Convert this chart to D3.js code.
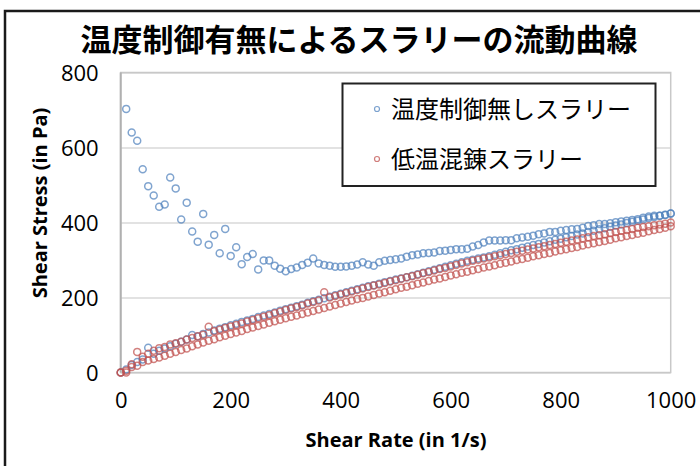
<!DOCTYPE html>
<html lang="ja">
<head>
<meta charset="UTF-8">
<title>温度制御有無によるスラリーの流動曲線</title>
<script src="https://d3js.org/d3.v7.min.js"></script>
<style>
  body { margin: 0; background: #fff; }
  svg { display: block; }
  .title { font-family: "Noto Sans CJK JP", sans-serif; font-weight: bold; font-size: 31px; }
  .tick text { font-family: "Open Sans", sans-serif; font-size: 22px; fill: #000; }
  .axis-title { font-family: "Open Sans", sans-serif; font-weight: bold; font-size: 20px; }
  .legend-text { font-family: "Noto Sans CJK JP", sans-serif; font-size: 24px; }
</style>
</head>
<body>
<svg width="700" height="466"></svg>
<script>
// shear rate grid (1/s)
const shearRate = [0,10,20,30,40,50,60,70,80,90,100,110,120,130,140,150,160,170,180,190,
  200,210,220,230,240,250,260,270,280,290,300,310,320,330,340,350,360,370,380,390,
  400,410,420,430,440,450,460,470,480,490,500,510,520,530,540,550,560,570,580,590,
  600,610,620,630,640,650,660,670,680,690,700,710,720,730,740,750,760,770,780,790,
  800,810,820,830,840,850,860,870,880,890,900,910,920,930,940,950,960,970,980,990,1000];

// 温度制御無しスラリー: ramp up / ramp down (Pa)
const blueUp = [0,8,20,28,35,66,50,58,64,70,77,82,88,100,96,103,107,112,117,121,
  126,130,135,139,143,148,152,156,160,165,169,173,177,181,186,190,194,198,202,206,
  210,214,218,222,226,230,233,237,241,244,248,251,254,258,262,266,270,274,278,282,
  286,290,294,298,301,304,307,310,314,318,322,326,329,333,336,340,343,347,350,354,
  357,361,364,368,371,375,378,382,385,389,392,395,399,402,405,408,412,415,418,421,424];
const blueDown = [null,703,640,618,542,497,472,442,448,520,491,408,453,376,349,423,341,367,318,383,
  311,334,289,308,316,275,299,299,285,277,270,276,280,287,293,304,291,287,285,282,
  282,283,285,288,294,288,285,294,298,300,302,304,309,313,315,318,319,320,324,325,
  327,329,329,330,336,340,347,352,352,352,353,353,358,360,362,365,369,371,375,375,
  378,380,382,383,386,391,393,396,396,398,401,403,405,407,409,413,416,418,418,420,424];

// 低温混錬スラリー: two branches (Pa)
const redUp = [0,5,22,55,42,50,58,65,68,75,78,82,88,92,97,101,122,110,114,119,
  123,127,131,136,140,145,149,153,158,162,167,171,175,179,184,188,192,214,200,204,
  208,212,216,220,224,228,232,235,239,243,246,250,254,257,261,265,268,272,276,279,
  283,287,291,294,298,301,304,307,310,313,316,319,322,325,328,331,334,337,340,343,
  346,349,352,355,358,361,364,366,369,372,375,378,380,383,386,388,390,393,395,397,400];
const redDown = [0,0,15,18,28,32,36,40,45,50,55,60,64,70,75,80,85,89,94,98,
  103,107,111,116,120,124,128,133,137,141,145,149,152,156,160,164,168,172,176,180,
  184,188,192,196,199,203,207,211,214,218,222,226,229,233,237,240,244,248,251,255,
  259,262,266,269,273,276,280,283,286,290,293,296,300,303,306,310,313,316,319,323,
  326,329,332,335,339,342,345,348,351,354,358,361,364,367,370,373,377,380,383,386,390];

const xTicks = [0, 200, 400, 600, 800, 1000];
const yTicks = [0, 200, 400, 600, 800];

const legendLabels = ["温度制御無しスラリー", "低温混錬スラリー"];
const colors = ["#4F81BD", "#C0504D"];

const svg = d3.select("svg");

// outer frame
svg.append("rect")
  .attr("x", 5).attr("y", 11).attr("width", 800).attr("height", 500)
  .attr("fill", "none").attr("stroke", "#1a1a1a").attr("stroke-width", 2.5);

svg.append("text").attr("class", "title")
  .attr("x", 359).attr("y", 51).attr("text-anchor", "middle")
  .text("温度制御有無によるスラリーの流動曲線");

const x = d3.scaleLinear().domain([0, 1000]).range([120.7, 670.7]);
const y = d3.scaleLinear().domain([0, 800]).range([372.5, 72.5]);

// gridlines + y labels
const yAxis = svg.append("g")
  .attr("transform", "translate(" + x(0) + ",0)")
  .call(d3.axisLeft(y).tickValues(yTicks).tickSize(-(x(1000) - x(0))).tickPadding(22));
yAxis.select(".domain").remove();
yAxis.selectAll(".tick line").attr("stroke", "#d9d9d9").attr("stroke-width", 1.5);
yAxis.selectAll(".tick text").attr("dy", "0.36em");

const xAxis = svg.append("g")
  .attr("transform", "translate(0," + y(0) + ")")
  .call(d3.axisBottom(x).tickValues(xTicks).tickFormat(d3.format("d")).tickSize(0).tickPadding(20));
xAxis.select(".domain").remove();

// plot border
svg.append("rect")
  .attr("x", x(0)).attr("y", y(800))
  .attr("width", x(1000) - x(0)).attr("height", y(0) - y(800))
  .attr("fill", "none").attr("stroke", "#c8c8c8").attr("stroke-width", 1.5);
svg.append("line")
  .attr("x1", x(0)).attr("x2", x(0)).attr("y1", y(800)).attr("y2", y(0))
  .attr("stroke", "#b0b0b0").attr("stroke-width", 2);

svg.append("text").attr("class", "axis-title")
  .attr("x", 396).attr("y", 447).attr("text-anchor", "middle")
  .text("Shear Rate (in 1/s)");
svg.append("text").attr("class", "axis-title")
  .attr("transform", "translate(47,203) rotate(-90)")
  .attr("text-anchor", "middle")
  .text("Shear Stress (in Pa)");

// points
function drawSeries(values, color) {
  const pts = shearRate.map((r, i) => [r, values[i]]).filter(d => d[1] != null);
  svg.append("g").selectAll("circle")
    .data(pts)
    .join("circle")
    .attr("cx", d => x(d[0]))
    .attr("cy", d => y(d[1]))
    .attr("r", 3.5)
    .attr("fill", "none")
    .attr("stroke", color)
    .attr("stroke-opacity", 0.72)
    .attr("stroke-width", 1.5);
}
drawSeries(blueUp, colors[0]);
drawSeries(blueDown, colors[0]);
drawSeries(redUp, colors[1]);
drawSeries(redDown, colors[1]);

// legend
const legend = svg.append("g");
legend.append("rect")
  .attr("x", 342.5).attr("y", 83.5).attr("width", 313).attr("height", 102.5)
  .attr("fill", "#fff").attr("stroke", "#222").attr("stroke-width", 2);
legendLabels.forEach((label, i) => {
  const ly = 109 + i * 50;
  legend.append("circle")
    .attr("cx", 377).attr("cy", ly).attr("r", 2.5)
    .attr("fill", "none").attr("stroke", colors[i]).attr("stroke-opacity", 0.75).attr("stroke-width", 1.2);
  legend.append("text").attr("class", "legend-text")
    .attr("x", 391).attr("y", ly).attr("dy", "0.36em")
    .text(label);
});
</script>
</body>
</html>
